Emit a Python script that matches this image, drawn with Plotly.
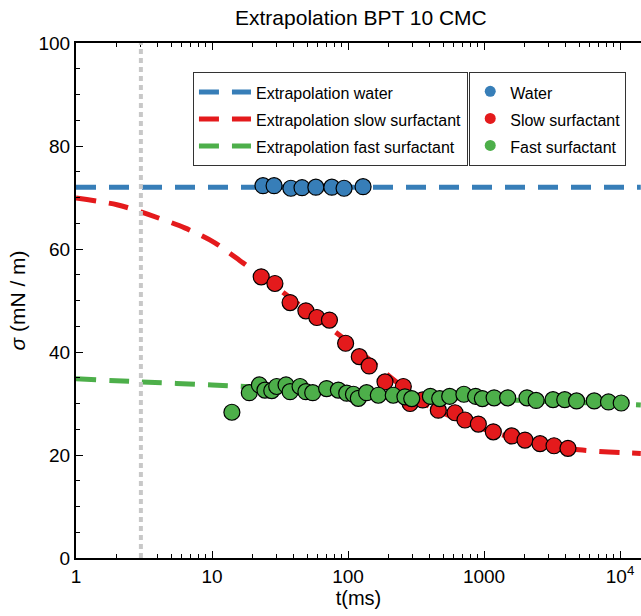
import plotly.graph_objects as go

# ---------------- data ----------------
water_t = [23.7, 28.6, 38, 45.9, 58, 76, 93.5, 129]
water_sigma = [72.3, 72.3, 71.8, 71.9, 72.0, 72.0, 71.8, 72.1]

slow_t = [23, 29, 37.5, 49, 59, 73, 96, 121, 143, 187, 255, 286, 354, 461, 612,
          724, 908, 1170, 1600, 2000, 2580, 3270, 4140]
slow_sigma = [54.6, 53.3, 49.6, 48.0, 46.7, 46.2, 41.7, 39.1, 37.3, 34.2, 33.3, 30.0,
              30.7, 28.7, 28.2, 26.8, 26.0, 24.5, 23.7, 22.9, 22.2, 21.8, 21.3]

fast_t = [14.0, 18.8, 22.3, 24.5, 27.5, 29.9, 35, 37.5, 44.4, 49, 55, 69.6, 84.9, 97.8,
          109.6, 119, 137, 167, 215, 262, 294, 403, 472, 559, 711, 867, 972, 1186,
          1492, 2070, 2415, 3215, 3920, 4790, 6460, 8220, 10200]
fast_sigma = [28.3, 32.1, 33.6, 32.6, 32.5, 33.3, 33.6, 32.3, 33.3, 32.3, 32.1, 32.9,
              32.6, 32.0, 31.8, 31.0, 32.1, 31.6, 31.6, 31.3, 30.95, 31.4, 30.95, 31.4,
              31.8, 31.4, 30.95, 31.1, 31.1, 31.1, 30.6, 30.75, 30.75, 30.5, 30.5, 30.3,
              30.1]

extrap_water_t = [1, 14200]
extrap_water_sigma = [72.0, 72.0]

extrap_slow_t = [1, 2, 3, 6.3, 10.5, 16.9, 30, 50, 100, 203, 400, 1000, 2000, 5000, 14200]
extrap_slow_sigma = [69.9, 68.6, 67.2, 64.1, 61.2, 57.3, 52.5, 48.0, 42.0, 35.2, 29.4,
                     25.0, 22.8, 21.0, 20.3]

extrap_fast_t = [1, 3, 10, 30, 100, 300, 1000, 3000, 10000, 14200]
extrap_fast_sigma = [34.8, 34.2, 33.6, 33.0, 32.2, 31.5, 30.9, 30.4, 29.9, 29.7]

dead_time = 3

x_tick_vals = [1, 10, 100, 1000, 10000]
x_tick_text = ["1", "10", "100", "1000", "10<sup>4</sup>"]
y_tick_vals = [0, 20, 40, 60, 80, 100]

BLUE = "#377EB8"
RED = "#E41A1C"
GREEN = "#4DAF4A"
FONT = "Liberation Sans"


def lg(txt):
    return '<span style="font-size:16px">' + txt + "</span>"


fig = go.Figure()

fig.add_vline(x=dead_time, line=dict(color="#c8c8c8", width=4, dash="5px,4px"), layer="above")

dash = "20px,13px"
for t, s, c, name in [
    (extrap_water_t, extrap_water_sigma, BLUE, "Extrapolation water"),
    (extrap_slow_t, extrap_slow_sigma, RED, "Extrapolation slow surfactant"),
    (extrap_fast_t, extrap_fast_sigma, GREEN, "Extrapolation fast surfactant"),
]:
    fig.add_trace(go.Scatter(x=t, y=s, mode="lines", name=lg(name), legend="legend",
                             line=dict(color=c, width=5, dash=dash, shape="spline", smoothing=0.8)))

for t, s, c in [(water_t, water_sigma, BLUE), (slow_t, slow_sigma, RED), (fast_t, fast_sigma, GREEN)]:
    fig.add_trace(go.Scatter(x=t, y=s, mode="markers", showlegend=False,
                             marker=dict(color=c, size=16, line=dict(color="black", width=1.2))))

for c, name in [(BLUE, "Water"), (RED, "Slow surfactant"), (GREEN, "Fast surfactant")]:
    fig.add_trace(go.Scatter(x=[None], y=[None], mode="markers", name=lg(name), legend="legend2",
                             marker=dict(color=c, size=11)))

minor_x = [m * 10 ** e for e in range(0, 5) for m in range(2, 10) if m * 10 ** e < 14200]

fig.update_layout(
    width=641, height=616,
    margin=dict(l=76, r=0, t=43, b=58),
    paper_bgcolor="white", plot_bgcolor="white",
    font=dict(family=FONT, color="black"),
    title=dict(text="Extrapolation BPT 10 CMC", x=0.563, xanchor="center", y=0.972,
               yanchor="middle", font=dict(size=21, family=FONT, color="black")),
    xaxis=dict(type="log", range=[0, 4.154], tickmode="array", tickvals=x_tick_vals,
               ticktext=x_tick_text, ticks="inside", ticklen=7, tickwidth=1, tickcolor="black",
               showline=True, linecolor="black", linewidth=2, mirror="allticks",
               showgrid=False, zeroline=False, tickfont=dict(size=19, family=FONT),
               minor=dict(tickmode="array", tickvals=minor_x, ticks="inside", ticklen=4,
                          tickcolor="black", showgrid=False),
               title=dict(text="t(ms)", font=dict(size=20, family=FONT), standoff=4)),
    yaxis=dict(range=[0, 100], tickmode="array", tickvals=y_tick_vals, ticks="inside",
               ticklen=7, tickwidth=1, tickcolor="black", showline=True, linecolor="black",
               linewidth=2, mirror=False, showgrid=False, zeroline=False,
               tickfont=dict(size=19, family=FONT),
               minor=dict(dtick=5, ticks="inside", ticklen=4, tickcolor="black", showgrid=False),
               title=dict(text="<i>σ</i> (mN / m)", font=dict(size=21, family=FONT), standoff=7)),
    legend=dict(x=0.207, y=0.943, xanchor="left", yanchor="top", bgcolor="white",
                bordercolor="#333333", borderwidth=1, font=dict(size=18.5, family=FONT),
                tracegroupgap=0, itemwidth=52),
    legend2=dict(x=0.696, y=0.944, xanchor="left", yanchor="top", bgcolor="white",
                 bordercolor="#333333", borderwidth=1, font=dict(size=18.5, family=FONT),
                 tracegroupgap=0),
)

fig.write_html("out.html", config={"displayModeBar": False},
               post_script="document.body.style.margin='0px';document.body.style.overflow='hidden';")
